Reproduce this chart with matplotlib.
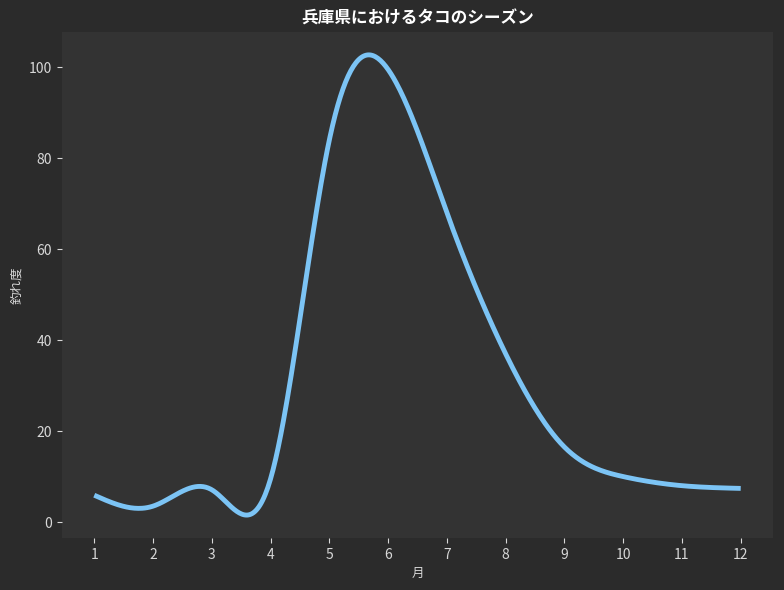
import numpy as np
import matplotlib
matplotlib.use("Agg")
import matplotlib.pyplot as plt

plt.rcParams['font.family'] = ['Noto Sans CJK JP', 'DejaVu Sans']

months = [1, 2, 3, 4, 5, 6, 7, 8, 9, 10, 11, 12]
catch = [5.9, 3.5, 7.1, 9.5, 84, 99.5, 68, 37, 16.5, 10, 8.0, 7.4]
title = "兵庫県におけるタコのシーズン"
xlabel = "月"
ylabel = "釣れ度"


def spline(x, y, xs):
    # natural cubic spline
    x = np.asarray(x, float)
    y = np.asarray(y, float)
    n = len(x)
    h = np.diff(x)
    d = np.diff(y) / h
    A = np.zeros((n, n))
    b = np.zeros(n)
    A[0, 0] = 1.0
    A[-1, -1] = 1.0
    for i in range(1, n - 1):
        A[i, i - 1] = h[i - 1]
        A[i, i] = 2 * (h[i - 1] + h[i])
        A[i, i + 1] = h[i]
        b[i] = 6 * (d[i] - d[i - 1])
    M = np.linalg.solve(A, b)
    idx = np.clip(np.searchsorted(x, xs) - 1, 0, n - 2)
    x0, x1 = x[idx], x[idx + 1]
    hh = x1 - x0
    t0 = x1 - xs
    t1 = xs - x0
    return (M[idx] * t0 ** 3 / (6 * hh) + M[idx + 1] * t1 ** 3 / (6 * hh)
            + (y[idx] / hh - M[idx] * hh / 6) * t0
            + (y[idx + 1] / hh - M[idx + 1] * hh / 6) * t1)


xs = np.linspace(months[0], months[-1], 500)
ys = spline(months, catch, xs)

fig, ax = plt.subplots(figsize=(7.84, 5.9), dpi=100)
fig.patch.set_facecolor('#2b2b2b')
ax.set_facecolor('#333333')
ax.plot(xs, ys, color='#7cc4f5', linewidth=3.5, solid_capstyle='butt')
ax.set_xticks(months)
ax.set_yticks([0, 20, 40, 60, 80, 100])
for s in ax.spines.values():
    s.set_visible(False)
ax.tick_params(colors='#d8d8d8', labelsize=10)
ax.set_title(title, color='white', fontsize=12, fontweight='bold')
ax.set_xlabel(xlabel, color='#d8d8d8', fontsize=9)
ax.set_ylabel(ylabel, color='#d8d8d8', fontsize=9)
fig.subplots_adjust(left=0.079, right=0.986, top=0.946, bottom=0.088)
fig.savefig('out.png', dpi=100, facecolor=fig.get_facecolor())
